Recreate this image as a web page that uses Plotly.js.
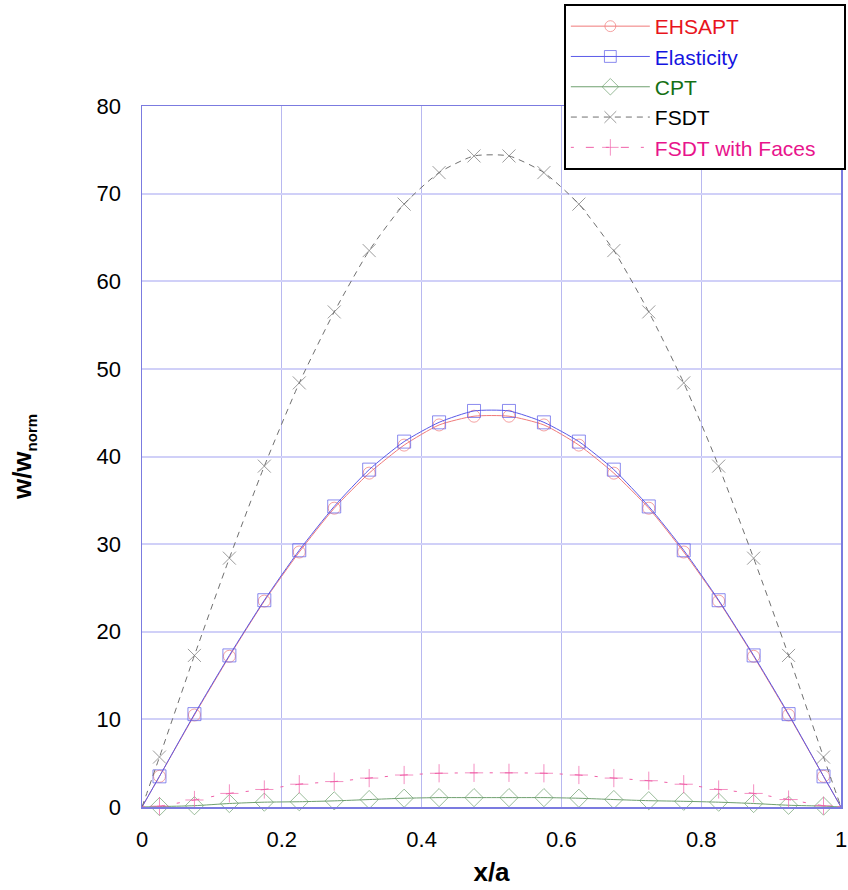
<!DOCTYPE html>
<html>
<head>
<meta charset="utf-8">
<script src="https://cdn.plot.ly/plotly-3.0.1.min.js"></script>
<style>html,body{margin:0;padding:0;background:#fff;}#chart{width:848px;height:890px;}</style>
</head>
<body>
<div id="chart"></div>
<script>
// x positions of markers (x/a), line endpoints at 0 and 1
const xPts = [0, 0.025, 0.075, 0.125, 0.175, 0.225, 0.275, 0.325, 0.375, 0.425, 0.475,
              0.525, 0.575, 0.625, 0.675, 0.725, 0.775, 0.825, 0.875, 0.925, 0.975, 1];

const ehsapt     = [0, 3.5, 10.5, 17.2, 23.5, 29.1, 34.1, 38.1, 41.3, 43.6, 44.6,
                    44.6, 43.6, 41.3, 38.1, 34.1, 29.1, 23.5, 17.2, 10.5, 3.5, 0];
const elasticity = [0, 3.5, 10.6, 17.3, 23.6, 29.3, 34.3, 38.5, 41.7, 43.9, 45.2,
                    45.2, 43.9, 41.7, 38.5, 34.3, 29.3, 23.6, 17.3, 10.6, 3.5, 0];
const cpt        = [0, 0.05, 0.15, 0.4, 0.55, 0.6, 0.7, 0.85, 1.0, 1.07, 1.07,
                    1.07, 1.07, 1.0, 0.85, 0.72, 0.65, 0.55, 0.4, 0.2, 0.1, 0];
const fsdt       = [0, 5.7, 17.3, 28.4, 38.9, 48.4, 56.5, 63.5, 68.8, 72.4, 74.3,
                    74.3, 72.4, 68.8, 63.5, 56.5, 48.4, 38.9, 28.4, 17.3, 5.7, 0];
const fsdtFaces  = [0, 0.1, 0.8, 1.55, 2.0, 2.6, 2.9, 3.3, 3.65, 3.85, 3.9,
                    3.9, 3.85, 3.65, 3.3, 3.0, 2.6, 2.0, 1.55, 0.85, 0.15, 0];

const names = ['EHSAPT', 'Elasticity', 'CPT', 'FSDT', 'FSDT with Faces'];
const xTicks = [0, 0.2, 0.4, 0.6, 0.8, 1];
const yTicks = [0, 10, 20, 30, 40, 50, 60, 70, 80];

function sizes(s) { return xPts.map((x, i) => (i === 0 || i === xPts.length - 1) ? 0 : s); }

function mk(y, name, textColor, lineColor, dash, symbol, msize) {
  return {
    x: xPts, y: y, type: 'scatter', mode: 'lines+markers',
    name: '<span style="color:' + textColor + '">' + name + '</span>',
    line: {color: lineColor, width: 1, dash: dash, shape: 'spline', smoothing: 0.6},
    marker: {symbol: symbol, size: sizes(msize), color: lineColor, line: {color: lineColor, width: 1}},
    cliponaxis: false
  };
}

const data = [
  mk(ehsapt, names[0], '#e8141c', '#f07a7a', 'solid', 'circle-open', 12),
  mk(elasticity, names[1], '#1414e0', '#5a5ae8', 'solid', 'square-open', 13),
  mk(cpt, names[2], '#147014', '#6fa06f', 'solid', 'diamond-open', 14),
  mk(fsdt, names[3], '#000000', '#707070', '6px,5px', 'x-thin-open', 13),
  mk(fsdtFaces, names[4] + '&nbsp;&nbsp;&nbsp;&nbsp;', '#e8148c', '#f060a8', '3px,12px,8px,12px', 'cross-thin-open', 13)
];

const font = {family: 'Arimo, "Liberation Sans", Arial, sans-serif', color: '#000'};

const layout = {
  width: 848, height: 890,
  margin: {l: 141.5, r: 6.5, t: 106, b: 83, pad: 0, autoexpand: false},
  paper_bgcolor: '#fff', plot_bgcolor: '#fff',
  font: font,
  showlegend: true,
  legend: {
    x: -0.0015 + (565 - 141.5) / 700, y: 1.1455, xanchor: 'left', yanchor: 'top',
    bgcolor: '#fff', bordercolor: '#000', borderwidth: 2,
    font: {family: font.family, size: 21},
    itemwidth: 79, tracegroupgap: 0
  },
  xaxis: {
    range: [0, 1], tickvals: xTicks, ticktext: xTicks.map(String),
    showgrid: true, gridcolor: '#b8b8f0', gridwidth: 1,
    showline: true, linecolor: '#7b7be0', linewidth: 1.5, mirror: true,
    zeroline: false, ticks: '', tickfont: {size: 22}, ticklabelstandoff: 12,
    title: {text: '<b>x/a</b>', font: {size: 26}, standoff: 12},
    automargin: false
  },
  yaxis: {
    range: [0, 80], tickvals: yTicks, ticktext: yTicks.map(String),
    showgrid: true, gridcolor: '#d0d0f8', gridwidth: 2,
    showline: true, linecolor: '#7b7be0', linewidth: 1.5, mirror: true,
    zeroline: false, ticks: '', tickfont: {size: 22}, ticklabelstandoff: 15,
    title: {text: '<b>w/w<sub><span style="font-size:15px">norm</span></sub></b>', font: {size: 26}, standoff: 57},
    automargin: false
  }
};

Plotly.newPlot('chart', data, layout, {displayModeBar: false, staticPlot: true});
</script>
</body>
</html>
